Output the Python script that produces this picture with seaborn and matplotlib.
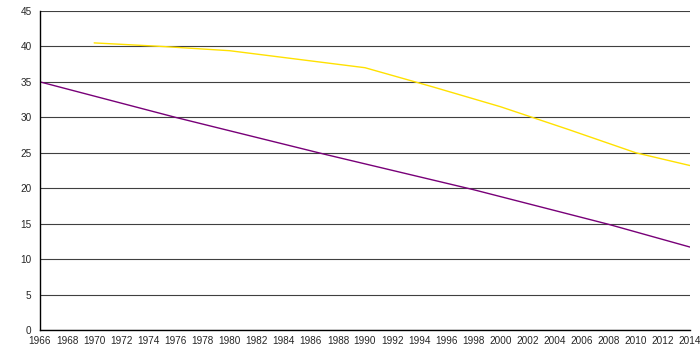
import matplotlib
matplotlib.use("Agg")
import matplotlib.pyplot as plt
import seaborn as sns
import pandas as pd

years_yellow = [1970, 1975, 1980, 1985, 1990, 1995, 2000, 2005, 2010, 2014]
values_yellow = [40.5, 40.0, 39.4, 38.2, 37.0, 34.3, 31.5, 28.3, 25.0, 23.2]
years_purple = [1966, 1976, 1987, 1998, 2008, 2014]
values_purple = [35.0, 30.0, 24.8, 19.8, 14.9, 11.7]
x_ticks = list(range(1966, 2015, 2))
y_ticks = list(range(0, 46, 5))

sns.set_style("white")
plt.rcParams['font.family'] = ['Liberation Sans', 'DejaVu Sans']

fig = plt.figure(figsize=(7, 3.5), dpi=100)
ax = fig.add_axes([40/700, 20/350, 650/700, 319/350])

df_y = pd.DataFrame({"year": years_yellow, "value": values_yellow})
df_p = pd.DataFrame({"year": years_purple, "value": values_purple})
sns.lineplot(data=df_y, x="year", y="value", ax=ax, color="#FFE100", linewidth=1.0)
sns.lineplot(data=df_p, x="year", y="value", ax=ax, color="#780078", linewidth=1.0)

ax.set_xlim(1966, 2014)
ax.set_ylim(0, 45)
ax.set_xticks(x_ticks)
ax.set_xticklabels([str(t) for t in x_ticks], fontsize=7.2)
ax.set_yticks(y_ticks)
ax.set_yticklabels([str(t) for t in y_ticks], fontsize=7.2)
ax.set_xlabel("")
ax.set_ylabel("")
ax.grid(axis="y", color="#404040", linewidth=0.8)
ax.set_axisbelow(True)
for s in ["top", "right"]:
    ax.spines[s].set_visible(False)
for s in ["left", "bottom"]:
    ax.spines[s].set_color("black")
    ax.spines[s].set_linewidth(1.0)
ax.tick_params(axis="x", direction="inout", length=6, width=0.8, color="black", pad=1)
ax.tick_params(axis="y", direction="out", length=4, width=0.8, color="#404040", pad=2)

fig.savefig("out.png", dpi=100)
